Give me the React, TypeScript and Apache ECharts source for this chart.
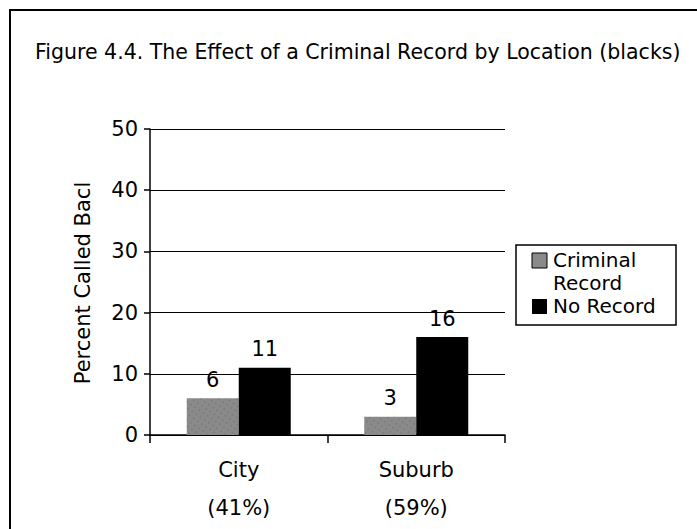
import React, { useEffect, useRef } from "react";
import * as echarts from "echarts";

const categories = ["City", "Suburb"];
const shares = ["(41%)", "(59%)"];
const seriesNames = ["Criminal Record", "No Record"];
const criminalRecord = [6, 3];
const noRecord = [11, 16];
const titleText = "Figure 4.4. The Effect of a Criminal Record by Location (blacks)";
const yAxisName = "Percent Called Bacl";

const FONT = "DejaVu Sans";
const FS = 21;

export default function App() {
  const ref = useRef<HTMLDivElement>(null);
  useEffect(() => {
    document.body.style.margin = "0";
    const chart = echarts.init(ref.current!, null, { renderer: "svg" });
    const labelStyle = { show: true, position: "top", distance: 8, color: "#000", fontSize: FS, fontFamily: FONT };
    chart.setOption({
      animation: false,
      backgroundColor: "#fff",
      grid: { left: 150, right: 192, top: 129, bottom: 94 },
      xAxis: {
        type: "category",
        data: categories,
        axisLine: { show: true, lineStyle: { color: "#000", width: 1.5 } },
        axisTick: { show: true, length: 8, lineStyle: { color: "#000", width: 1.5 } },
        axisLabel: {
          color: "#000",
          fontSize: FS,
          fontFamily: FONT,
          lineHeight: 19,
          margin: 25,
          formatter: (v: string, i: number) => `${v}\n\n${shares[i]}`,
        },
      },
      yAxis: {
        type: "value",
        min: 0,
        max: 50,
        interval: 10,
        axisLine: { show: true, lineStyle: { color: "#000", width: 1.5 } },
        axisTick: { show: true, length: 6, lineStyle: { color: "#000", width: 1.5 } },
        splitLine: { show: true, lineStyle: { color: "#000", width: 1 } },
        axisLabel: { color: "#000", fontSize: FS, fontFamily: FONT, margin: 12 },
      },
      series: [
        {
          name: seriesNames[0],
          type: "bar",
          data: criminalRecord,
          barWidth: 52,
          barGap: "0%",
          itemStyle: {
            color: "#8a8a8a",
            decal: { symbol: "rect", symbolSize: 0.5, dashArrayX: [2, 3], dashArrayY: [2, 3], color: "rgba(50,50,50,0.55)", rotation: 0.6 },
          },
          label: labelStyle,
        },
        {
          name: seriesNames[1],
          type: "bar",
          data: noRecord,
          barWidth: 52,
          itemStyle: { color: "#000" },
          label: labelStyle,
        },
      ],
      graphic: [
        { type: "rect", shape: { x: 10, y: 10, width: 700, height: 540 }, style: { fill: "none", stroke: "#000", lineWidth: 2 }, silent: true },
        { type: "text", x: 35, y: 52, style: { text: titleText, fontSize: 20.5, fontFamily: FONT, fill: "#000", verticalAlign: "middle" } },
        { type: "text", x: 83, y: 283, rotation: Math.PI / 2, style: { text: yAxisName, fontSize: FS, fontFamily: FONT, fill: "#000", align: "center", verticalAlign: "middle" } },
        { type: "rect", shape: { x: 516, y: 245, width: 160, height: 80 }, style: { fill: "#fff", stroke: "#000", lineWidth: 1.5 } },
        { type: "rect", shape: { x: 532, y: 253, width: 15, height: 15 }, style: { fill: "#8a8a8a", stroke: "#000", lineWidth: 1 } },
        { type: "text", x: 553, y: 260, style: { text: "Criminal", fontSize: 20, fontFamily: FONT, fill: "#000", verticalAlign: "middle" } },
        { type: "text", x: 553, y: 283, style: { text: "Record", fontSize: 20, fontFamily: FONT, fill: "#000", verticalAlign: "middle" } },
        { type: "rect", shape: { x: 532, y: 299, width: 15, height: 15 }, style: { fill: "#000" } },
        { type: "text", x: 553, y: 306, style: { text: seriesNames[1], fontSize: 20, fontFamily: FONT, fill: "#000", verticalAlign: "middle" } },
      ],
    });
    return () => chart.dispose();
  }, []);
  return <div ref={ref} style={{ position: "absolute", left: 0, top: 0, width: 697, height: 529 }} />;
}
